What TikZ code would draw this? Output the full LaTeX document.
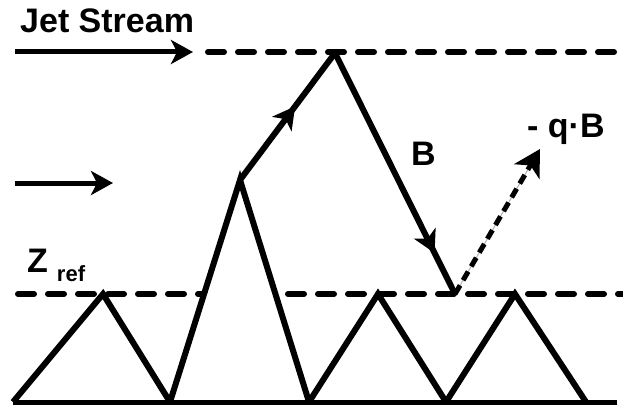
\documentclass[tikz,border=0pt]{standalone}
\usepackage{fontspec}
\setmainfont{Liberation Sans}
\usetikzlibrary{arrows.meta,decorations.markings}

\begin{document}
\begin{tikzpicture}[x=1pt, y=-1pt,
  >={Stealth[length=22pt, width=24pt, inset=6pt]},
  lbl/.style={font=\fontsize{34}{34}\selectfont\bfseries, inner sep=0pt, anchor=base west},
  wind/.style={->, line width=5pt},
  level/.style={line width=6pt, line cap=round, dash pattern=on 16pt off 14pt},
  ridge/.style={line width=6pt, line join=miter},
  flow/.style={ridge, postaction={decorate},
    decoration={markings, mark=at position #1 with {\arrow{>}}}},
  drag/.style={line width=5pt, dash pattern=on 10pt off 6pt,
    -{Stealth[length=26pt, width=29pt, inset=7pt]}},
]
\useasboundingbox (0,0) rectangle (623,404);

% points of the terrain
\coordinate (g0) at (13,402);
\coordinate (g1) at (617,402);
\coordinate (p1) at (103,294);
\coordinate (v1) at (170,402);
\coordinate (p2) at (240,180);
\coordinate (v2) at (309,402);
\coordinate (p3) at (378,294);
\coordinate (v3) at (446,402);
\coordinate (p4) at (515,294);
\coordinate (v4) at (586,402);
\coordinate (top) at (335,53);
\coordinate (low) at (455,294);
\coordinate (tip) at (540,149);

% levels
\coordinate (jt0) at (208,52);
\coordinate (jt1) at (623,52);
\coordinate (zr0) at (18,294);
\coordinate (zr1) at (623,294);
\draw[level] (jt0) -- (jt1);
\draw[level] (zr0) -- (zr1);

% wind
\coordinate (w1s) at (15,52);
\coordinate (w1e) at (193,52);
\coordinate (w2s) at (15,183);
\coordinate (w2e) at (113,183);
\draw[wind] (w1s) -- (w1e);
\draw[wind] (w2s) -- (w2e);

% terrain
\fill[white] (v1) -- (p2) -- (v2) -- cycle;
\draw[line width=5pt] (g0) -- (g1);
\draw[ridge] (g0) -- (p1) -- (v1) -- (p2) -- (v2) -- (p3) -- (v3) -- (p4) -- (v4);

% wave
\draw[flow=0.58] (p2) -- (top);
\draw[flow=0.83] (top) -- (low);
\draw[gray!60, line width=1pt, shorten >=20pt] (low) -- (tip);
\draw[drag] (low) -- (tip);

\node[lbl] (jet) at (20,33) {Jet Stream};
\node[lbl] (bl) at (411,165) {B};
\node[lbl] (qb) at (527,137) {- q·B};
\node[lbl] (zref) at (27,272) {Z\hspace{9pt}\raisebox{-9pt}{\fontsize{22}{22}\selectfont ref}};
\end{tikzpicture}
\end{document}
